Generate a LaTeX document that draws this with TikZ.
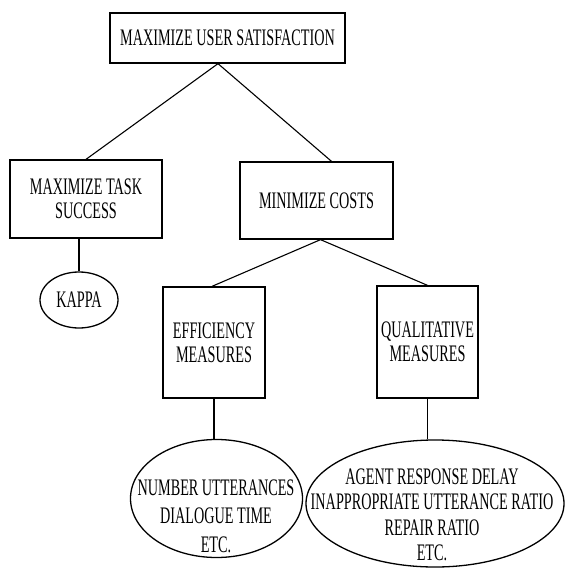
\documentclass[tikz,border=0pt]{standalone}
\usepackage{fontspec}
\setmainfont{Liberation Serif}[FakeStretch=0.6]
\usepackage{tikz}
\usetikzlibrary{shapes.geometric}
\tikzstyle{goal}=[draw,line width=1.3pt,inner sep=0pt,align=center,font=\fontsize{23.7}{24}\selectfont]
\tikzstyle{oval}=[goal,ellipse]
\tikzstyle{words}=[inner sep=0pt,align=center]
\tikzstyle{link}=[line width=1.1pt]

\begin{document}
\begin{tikzpicture}[x=1pt,y=-1pt]
    \useasboundingbox (0,0) rectangle (566,569);
    % goal boxes
    \node[goal,minimum width=235pt,minimum height=50pt] (user) at (227.5,38) {MAXIMIZE USER SATISFACTION};
    \node[goal,minimum width=152pt,minimum height=78pt] (task) at (86,199) {MAXIMIZE TASK\\SUCCESS};
    \node[goal,minimum width=153pt,minimum height=77pt] (costs) at (316.5,200.5) {MINIMIZE COSTS};
    \node[goal,minimum width=102pt,minimum height=111pt] (eff) at (214,342.5) {EFFICIENCY\\MEASURES};
    \node[goal,minimum width=101pt,minimum height=112pt] (qual) at (427.5,342) {QUALITATIVE\\MEASURES};
    % measures
    \node[oval,minimum width=78pt,minimum height=56pt] (kappa) at (79,300) {KAPPA};
    \node[oval,minimum width=172pt,minimum height=118pt] (ell1) at (216.5,498.5) {};
    \node[oval,minimum width=258pt,minimum height=127pt] (ell2) at (435,503.5) {};
    \node[words,font=\fontsize{23.7}{28.5}\selectfont] (ell1text) at (216,516) {NUMBER UTTERANCES\\DIALOGUE TIME\\ETC.};
    \node[words,font=\fontsize{23.7}{25.5}\selectfont] (ell2text) at (432,515) {AGENT RESPONSE DELAY\\INAPPROPRIATE UTTERANCE RATIO\\REPAIR RATIO\\ETC.};
    % links
    \draw[link] ([xshift=-9.5pt]user.south) -- (task.north);
    \draw[link] ([xshift=-9.5pt]user.south) -- ([xshift=15pt]costs.north);
    \draw[link] ([xshift=4pt]costs.south) -- ([xshift=-2pt]eff.north);
    \draw[link] ([xshift=4pt]costs.south) -- (qual.north);
    \draw[link] (task.south -| kappa.north) -- (kappa.north);
    \draw[link] (eff.south) -- (eff.south |- ell1.north);
    \draw[link] (qual.south) -- (qual.south |- ell2.north);
\end{tikzpicture}
\end{document}
